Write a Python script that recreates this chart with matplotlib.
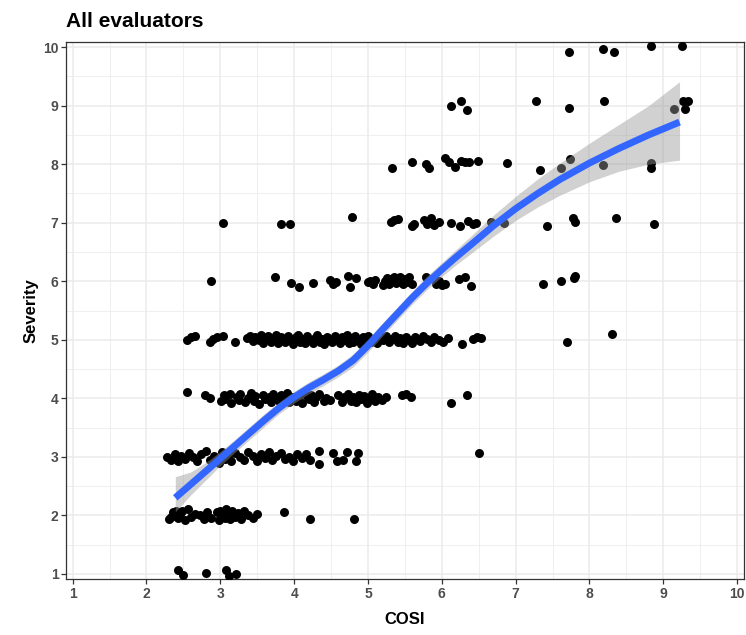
import matplotlib
matplotlib.use("Agg")
import matplotlib.pyplot as plt
import numpy as np

plt.rcParams["font.family"] = ["Liberation Sans", "DejaVu Sans"]

# jittered (COSI, Severity) points, one list per severity level
sev1_pts = [(2.42, 1.07), (2.50, 0.98), (2.81, 1.02), (3.08, 1.07), (3.12, 0.97), (3.21, 1.00)]

sev2_pts = [(2.30, 1.93), (2.33, 1.97), (2.36, 2.05), (2.40, 2.08), (2.42, 1.95), (2.45, 2.02),
            (2.48, 2.07), (2.52, 1.92), (2.56, 2.10), (2.60, 1.97), (2.66, 2.03), (2.72, 2.00),
            (2.78, 1.93), (2.82, 2.06), (2.88, 1.95), (2.95, 2.05), (2.98, 1.92), (3.00, 2.08),
            (3.03, 2.00), (3.06, 1.95), (3.08, 2.10), (3.10, 2.03), (3.13, 1.93), (3.16, 2.07),
            (3.20, 1.98), (3.24, 2.04), (3.28, 1.94), (3.32, 2.08), (3.38, 2.00), (3.44, 1.96),
            (3.50, 2.02), (3.86, 2.06), (4.22, 1.94), (4.81, 1.94)]

sev3_pts = [(2.28, 3.00), (2.33, 2.95), (2.38, 3.05), (2.42, 2.93), (2.47, 3.02), (2.52, 2.97),
            (2.58, 3.07), (2.63, 3.00), (2.68, 2.92), (2.74, 3.05), (2.80, 3.10), (2.86, 2.95),
            (2.92, 3.02), (2.98, 2.90), (3.02, 3.08), (3.06, 2.97), (3.10, 3.03), (3.14, 2.93),
            (3.20, 3.06), (3.26, 3.00), (3.32, 2.94), (3.38, 3.08), (3.44, 3.02), (3.50, 2.92),
            (3.55, 3.05), (3.60, 2.98), (3.66, 3.08), (3.70, 2.94), (3.76, 3.02), (3.82, 3.06),
            (3.88, 2.96), (3.93, 3.00), (3.98, 2.93), (4.04, 3.05), (4.10, 2.98), (4.16, 3.04),
            (4.22, 2.95), (4.34, 3.10), (4.34, 2.88), (4.53, 3.07), (4.58, 2.92), (4.66, 2.95),
            (4.72, 3.08), (4.84, 2.92), (4.87, 3.07), (6.50, 3.07)]

sev4_pts = [(2.55, 4.10), (2.79, 4.05), (2.86, 4.00), (3.01, 3.95), (3.05, 4.06), (3.07, 3.98),
            (3.13, 4.08), (3.15, 3.92), (3.22, 4.03), (3.25, 3.97), (3.27, 4.07), (3.33, 3.93),
            (3.38, 4.01), (3.41, 4.09), (3.46, 3.96), (3.47, 4.04), (3.53, 3.91), (3.58, 4.06),
            (3.60, 3.99), (3.66, 4.02), (3.69, 3.94), (3.71, 4.08), (3.77, 4.00), (3.79, 3.95),
            (3.82, 4.05), (3.86, 3.97), (3.90, 4.09), (3.93, 3.93), (3.97, 4.03), (4.02, 4.00),
            (4.03, 3.96), (4.09, 4.07), (4.11, 3.92), (4.17, 4.04), (4.20, 3.98), (4.23, 4.06),
            (4.27, 3.94), (4.30, 4.02), (4.34, 4.08), (4.40, 3.95), (4.43, 4.01), (4.49, 3.97),
            (4.60, 4.05), (4.65, 3.93), (4.68, 4.03), (4.73, 4.08), (4.77, 3.96), (4.80, 4.02),
            (4.84, 3.94), (4.88, 4.06), (4.91, 3.99), (4.95, 4.04), (4.99, 3.92), (5.03, 4.00),
            (5.05, 4.07), (5.10, 3.95), (5.13, 4.02), (5.19, 3.97), (5.24, 4.03), (5.46, 4.05),
            (5.52, 4.08), (5.58, 4.03), (6.12, 3.92), (6.34, 4.05)]

sev5_pts = [(2.55, 5.00), (2.60, 5.05), (2.66, 5.07), (2.86, 4.96), (2.90, 5.02), (2.95, 5.05),
            (3.03, 5.07), (3.20, 4.97), (3.36, 5.03), (3.40, 5.07), (3.44, 4.98), (3.47, 5.05),
            (3.52, 5.00), (3.55, 5.08), (3.58, 4.95), (3.62, 5.03), (3.65, 5.06), (3.68, 4.97),
            (3.72, 5.02), (3.75, 5.08), (3.78, 4.94), (3.82, 5.05), (3.85, 5.00), (3.88, 4.96),
            (3.91, 5.07), (3.95, 5.02), (3.98, 4.93), (4.02, 5.04), (4.05, 5.08), (4.08, 4.97),
            (4.12, 5.02), (4.15, 4.94), (4.18, 5.06), (4.22, 5.00), (4.25, 4.95), (4.28, 5.03),
            (4.31, 5.08), (4.35, 4.97), (4.38, 5.01), (4.41, 4.93), (4.45, 5.05), (4.48, 5.00),
            (4.51, 4.96), (4.55, 5.07), (4.58, 5.02), (4.62, 4.94), (4.65, 5.05), (4.68, 4.99),
            (4.71, 5.08), (4.74, 4.95), (4.77, 5.03), (4.80, 4.97), (4.83, 5.06), (4.86, 5.00),
            (4.90, 4.93), (4.93, 5.04), (4.96, 5.00), (5.00, 5.07), (5.04, 4.96), (5.08, 5.02),
            (5.12, 4.94), (5.16, 5.05), (5.20, 4.99), (5.24, 5.07), (5.28, 4.96), (5.32, 5.02),
            (5.36, 5.06), (5.40, 4.97), (5.44, 5.03), (5.48, 4.95), (5.52, 5.05), (5.56, 5.00),
            (5.60, 4.94), (5.64, 5.04), (5.70, 4.98), (5.74, 5.06), (5.80, 5.01), (5.85, 4.96),
            (5.90, 5.04), (5.96, 5.00), (6.02, 4.97), (6.08, 5.03), (6.27, 4.93), (6.42, 5.02),
            (6.47, 5.05), (6.53, 5.03), (7.69, 4.96), (8.31, 5.10)]

sev6_pts = [(2.87, 6.00), (3.74, 6.07), (3.96, 5.97), (4.06, 5.90), (4.25, 5.97), (4.49, 6.02),
            (4.52, 5.96), (4.57, 5.98), (4.73, 6.09), (4.75, 5.90), (4.84, 6.05), (5.00, 5.98),
            (5.03, 6.00), (5.07, 5.96), (5.10, 6.02), (5.20, 5.93), (5.23, 6.00), (5.26, 6.06),
            (5.29, 5.95), (5.32, 6.03), (5.35, 6.08), (5.38, 5.97), (5.41, 6.02), (5.44, 6.07),
            (5.47, 5.96), (5.50, 6.04), (5.53, 5.99), (5.56, 6.08), (5.59, 5.95), (5.78, 6.07),
            (5.92, 5.95), (5.96, 6.00), (6.00, 5.94), (6.05, 5.96), (6.23, 6.03), (6.32, 6.07),
            (6.40, 5.92), (7.37, 5.95), (7.62, 6.00), (7.79, 6.05), (7.81, 6.09)]

sev7_pts = [(3.03, 7.00), (3.82, 6.98), (3.95, 6.97), (4.79, 7.10), (5.31, 7.02), (5.35, 7.04),
            (5.41, 7.06), (5.60, 6.95), (5.63, 6.98), (5.76, 7.05), (5.80, 6.97), (5.85, 7.08),
            (5.90, 6.96), (5.96, 7.02), (6.12, 7.00), (6.24, 6.95), (6.36, 7.03), (6.42, 6.98),
            (6.46, 7.00), (6.67, 7.02), (6.84, 7.00), (7.42, 6.94), (7.78, 7.08), (7.80, 7.02),
            (8.36, 7.08), (8.87, 6.98)]

sev8_pts = [(5.33, 7.93), (5.60, 8.04), (5.78, 8.00), (5.83, 7.93), (6.05, 8.10), (6.10, 8.03),
            (6.18, 7.95), (6.26, 8.05), (6.32, 8.03), (6.37, 8.04), (6.49, 8.05), (6.88, 8.02),
            (7.33, 7.90), (7.62, 7.93), (7.74, 8.09), (8.18, 7.99), (8.83, 8.02), (8.83, 7.93)]

sev9_pts = [(6.13, 9.00), (6.26, 9.08), (6.34, 8.93), (7.28, 9.08), (7.72, 8.96), (8.20, 9.08),
            (9.14, 8.95), (9.27, 9.08), (9.33, 9.08), (9.30, 8.95)]

sev10_pts = [(7.72, 9.92), (8.18, 9.97), (8.33, 9.92), (8.83, 10.02), (9.26, 10.02)]

# loess smooth and its confidence band
smooth_x = [2.39, 2.6, 2.8, 3.0, 3.2, 3.4, 3.6, 3.8, 4.0, 4.2, 4.4, 4.6, 4.8, 5.0, 5.2,
            5.4, 5.6, 5.8, 6.0, 6.2, 6.4, 6.7, 7.0, 7.3, 7.6, 8.0, 8.4, 8.8, 9.22]
smooth_y = [2.30, 2.53, 2.75, 2.97, 3.19, 3.41, 3.63, 3.84, 4.02, 4.18, 4.32, 4.47, 4.65, 4.90, 5.18,
            5.45, 5.72, 5.97, 6.20, 6.42, 6.63, 6.95, 7.24, 7.50, 7.74, 8.02, 8.27, 8.50, 8.72]
smooth_lo = [2.06, 2.35, 2.60, 2.85, 3.08, 3.30, 3.52, 3.74, 3.92, 4.08, 4.22, 4.37, 4.54, 4.79, 5.07,
             5.34, 5.61, 5.86, 6.08, 6.29, 6.48, 6.77, 7.04, 7.27, 7.47, 7.70, 7.88, 8.00, 8.07]
smooth_hi = [2.66, 2.74, 2.90, 3.09, 3.30, 3.52, 3.74, 3.94, 4.12, 4.28, 4.42, 4.57, 4.76, 5.01, 5.29,
             5.56, 5.83, 6.09, 6.32, 6.55, 6.78, 7.13, 7.45, 7.75, 8.02, 8.36, 8.68, 9.00, 9.41]

ticks = list(range(1, 11))

fig = plt.figure(figsize=(7.46, 6.35), dpi=100)
ax = fig.add_axes([0.0885, 0.088, 0.9085, 0.846])

pts = np.array(sev1_pts + sev2_pts + sev3_pts + sev4_pts + sev5_pts + sev6_pts
               + sev7_pts + sev8_pts + sev9_pts + sev10_pts)
ax.scatter(pts[:, 0], pts[:, 1], s=42, color="black", linewidths=0, zorder=3)

ax.fill_between(smooth_x, smooth_lo, smooth_hi, color="#999999", alpha=0.45, linewidth=0, zorder=4)
ax.plot(smooth_x, smooth_y, color="#3366FF", linewidth=5, solid_capstyle="butt",
        solid_joinstyle="round", zorder=5)

ax.set_xlim(0.91, 10.09)
ax.set_ylim(0.91, 10.09)
ax.set_xticks(ticks)
ax.set_yticks(ticks)
ax.set_xticks([t + 0.5 for t in ticks[:-1]], minor=True)
ax.set_yticks([t + 0.5 for t in ticks[:-1]], minor=True)
ax.grid(which="major", color="#EBEBEB", linewidth=1.1, zorder=0)
ax.grid(which="minor", color="#EBEBEB", linewidth=0.55, zorder=0)
ax.set_axisbelow(True)

for s in ax.spines.values():
    s.set_color("#333333")
    s.set_linewidth(0.9)

ax.tick_params(which="major", length=3.5, width=0.9, color="#333333", labelsize=10, labelcolor="#4D4D4D", pad=2)
ax.tick_params(which="minor", length=0)
for lab in ax.get_xticklabels() + ax.get_yticklabels():
    lab.set_fontweight("bold")

ax.set_xlabel("COSI", fontsize=12, fontweight="bold", labelpad=8)
ax.set_ylabel("Severity", fontsize=12, fontweight="bold", labelpad=3)
ax.set_title("All evaluators", fontsize=15, fontweight="bold", loc="left", pad=11)

fig.savefig("out.png", dpi=100)
